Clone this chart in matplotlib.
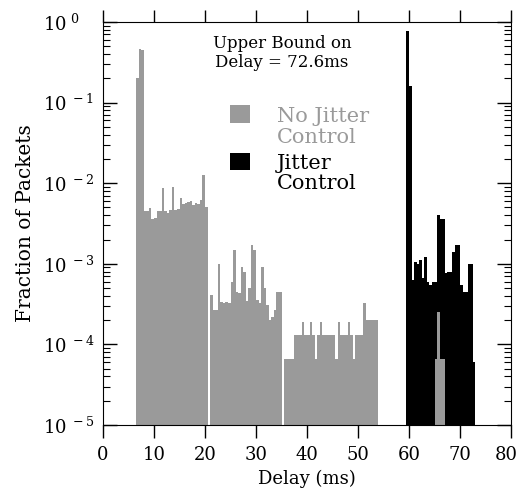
import numpy as np
import matplotlib
matplotlib.use('Agg')
import matplotlib.pyplot as plt
from matplotlib.patches import Rectangle
from matplotlib.transforms import ScaledTranslation

plt.rcParams['font.family'] = ['DejaVu Serif']
plt.rcParams['mathtext.fontset'] = 'dejavuserif'

# histogram bins are 0.5 ms wide, values are fraction of packets
bin_w = 0.5

# no jitter control: 6.5 .. 53.5 ms (left edges)
nj_start = 6.5
nj_frac = [0.2, 0.46, 0.45, 0.0045, 0.0045, 0.0049, 0.0036, 0.0037, 0.0045, 0.0045,
           0.0088, 0.0045, 0.0043, 0.0046, 0.009, 0.0046, 0.0048, 0.0066, 0.0055, 0.0056,
           0.0058, 0.006, 0.0054, 0.0056, 0.0055, 0.0062, 0.0126, 0.005, 0,
           4.1e-4, 2.7e-4, 2.7e-4, 1.0e-3, 3.4e-4, 3.3e-4, 3.4e-4, 3.3e-4, 5.9e-4, 1.5e-3,
           4.5e-4, 4.3e-4, 9.1e-4, 7.9e-4, 3.5e-4, 5.0e-4, 1.7e-3, 1.5e-3, 3.6e-4, 3.3e-4,
           9.0e-4, 5.0e-4, 3.1e-4, 2.0e-4, 2.2e-4, 2.7e-4, 4.5e-4, 4.5e-4, 0,
           6.5e-5, 6.5e-5, 6.5e-5, 6.5e-5, 1.3e-4, 1.3e-4, 1.3e-4, 1.9e-4, 1.3e-4, 1.3e-4,
           1.9e-4, 1.3e-4, 6.5e-5, 1.3e-4, 1.9e-4, 1.3e-4, 1.3e-4, 1.3e-4, 1.3e-4, 1.3e-4,
           6.5e-5, 1.9e-4, 1.3e-4, 1.3e-4, 1.3e-4, 1.9e-4, 1.3e-4, 6.5e-5, 1.3e-4, 1.3e-4,
           1.3e-4, 3.3e-4, 2.0e-4, 2.0e-4, 2.0e-4, 2.0e-4, 2.0e-4]
# small no-jitter bump hidden inside the jitter-control bars
nj_late_start = 65.0
nj_late_frac = [6.5e-5, 2.5e-4, 6.5e-5, 6.5e-5]

# jitter control: 59.5 .. 72.5 ms
jc_start = 59.5
jc_frac = [0.78, 0.16, 6.3e-4, 1.05e-3, 1.0e-3, 1.1e-3, 6.6e-4, 1.2e-3, 6.0e-4, 5.5e-4,
           5.9e-4, 5.9e-4, 4.0e-3, 3.6e-3, 3.6e-3, 7.7e-4, 8.0e-4, 8.0e-4, 1.4e-3, 1.7e-3,
           1.7e-3, 5.5e-4, 4.5e-4, 4.5e-4, 1.0e-3, 1.0e-3, 6.0e-5]

xticks = [0, 10, 20, 30, 40, 50, 60, 70, 80]
yticks = [1e-5, 1e-4, 1e-3, 1e-2, 1e-1, 1e0]
ytick_labels = ['$10^{\\ -5}$', '$10^{\\ -4}$', '$10^{\\ -3}$',
                '$10^{\\ -2}$', '$10^{\\ -1}$', '$10^{\\ 0}$']

gray = '#9a9a9a'

nj_x = nj_start + bin_w * np.arange(len(nj_frac))
nj_late_x = nj_late_start + bin_w * np.arange(len(nj_late_frac))
jc_x = jc_start + bin_w * np.arange(len(jc_frac))

fig = plt.figure(figsize=(5.18, 4.91), dpi=100)
ax = fig.add_axes([103 / 518, 1 - 425 / 491, 408 / 518, 403 / 491])
ax.set_yscale('log')

ax.bar(jc_x, jc_frac, width=bin_w, align='edge', color='black', linewidth=0)
ax.bar(nj_x, nj_frac, width=bin_w, align='edge', color=gray, linewidth=0)
ax.bar(nj_late_x, nj_late_frac, width=bin_w, align='edge', color=gray, linewidth=0)

ax.set_xlim(0, 80)
ax.set_ylim(1e-5, 1)
ax.set_xticks(xticks)
ax.set_xticklabels([str(t) for t in xticks], fontsize=13)
ax.set_yticks(yticks)
ax.set_yticklabels(ytick_labels, fontsize=13)
ax.minorticks_on()
ax.xaxis.set_minor_locator(matplotlib.ticker.NullLocator())
ax.tick_params(axis='x', direction='out', length=9, width=1, top=True, pad=6)
ax.tick_params(axis='y', which='major', direction='in', length=10, width=1,
               left=True, right=True, pad=43)
ax.tick_params(axis='y', which='minor', direction='in', length=5, width=0.8,
               left=True, right=True)
for lab in ax.get_yticklabels():
    lab.set_horizontalalignment('left')
# last x label sits on the figure edge, nudge it in a little
last = ax.get_xticklabels()[-1]
last.set_transform(last.get_transform() + ScaledTranslation(-5 / 100, 0, fig.dpi_scale_trans))

ax.set_xlabel('Delay (ms)', fontsize=13, labelpad=4)
ax.set_ylabel('Fraction of Packets', fontsize=14.5, labelpad=6)

ax.text(0.439, 0.968, 'Upper Bound on\nDelay = 72.6ms', transform=ax.transAxes,
        ha='center', va='top', fontsize=12, linespacing=1.2)

# legend drawn by hand: squares aligned with the first line of each label
ax.add_patch(Rectangle((0.311, 0.749), 0.049, 0.045, transform=ax.transAxes,
                       color=gray, linewidth=0))
ax.add_patch(Rectangle((0.311, 0.633), 0.049, 0.042, transform=ax.transAxes,
                       color='black', linewidth=0))
ax.text(0.426, 0.788, 'No Jitter\nControl', transform=ax.transAxes, ha='left',
        va='top', fontsize=15, color=gray, linespacing=1.08)
ax.text(0.426, 0.672, 'Jitter\nControl', transform=ax.transAxes, ha='left',
        va='top', fontsize=15, color='black', linespacing=1.08)

plt.savefig('out.png', dpi=100)
